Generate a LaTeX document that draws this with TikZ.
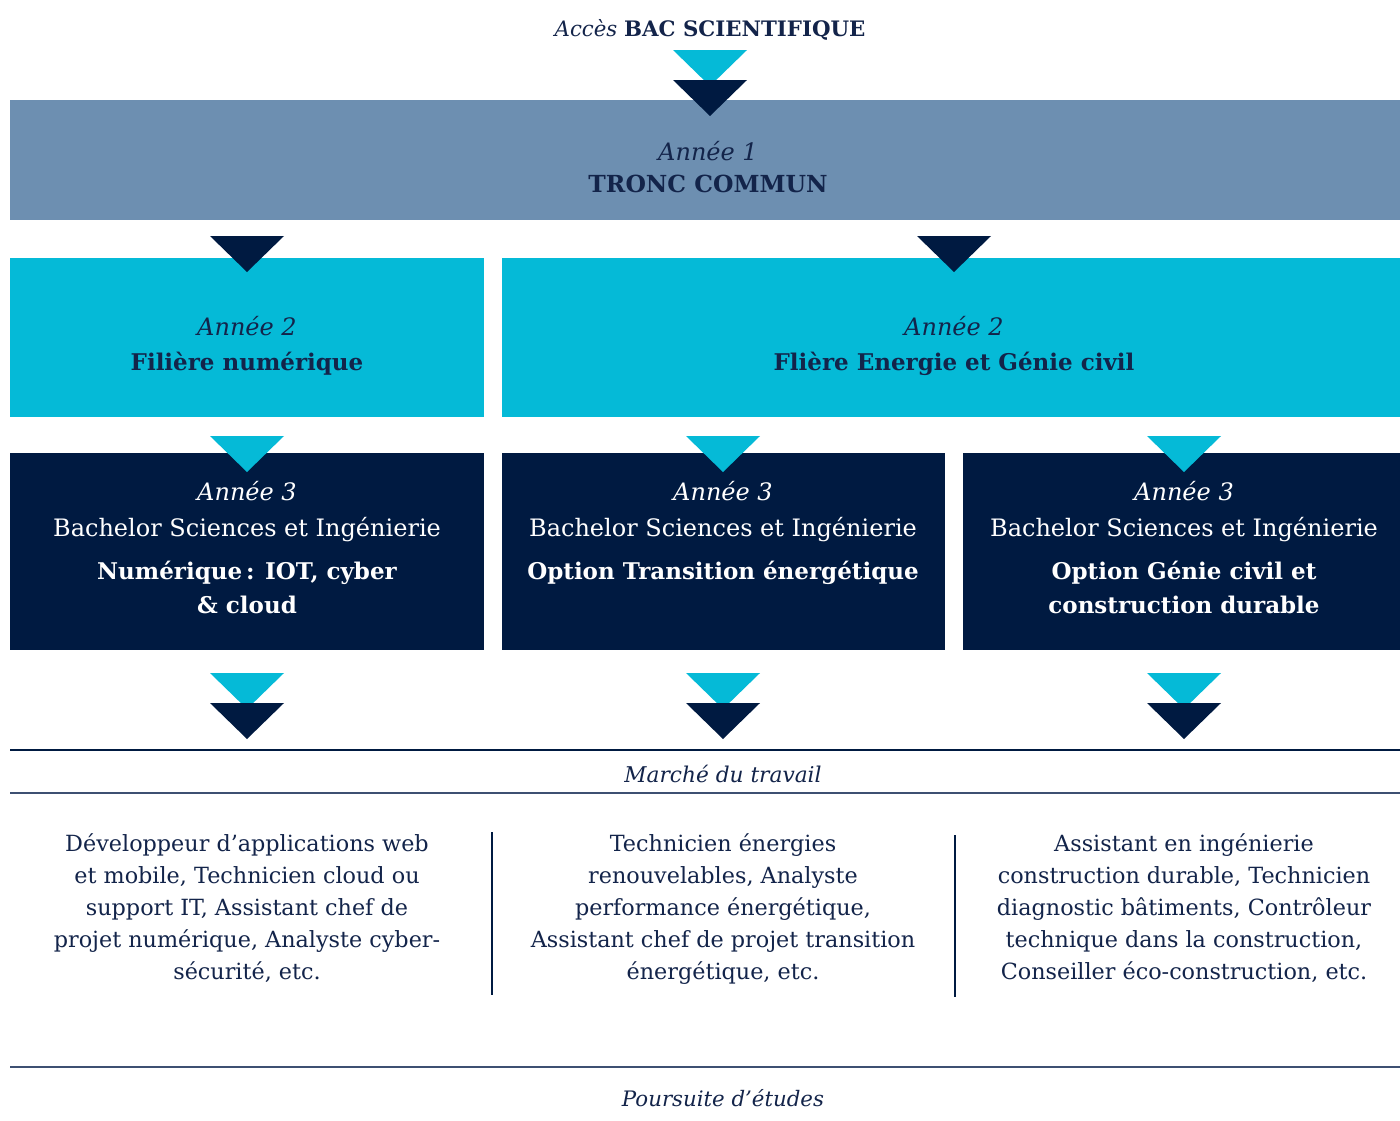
\documentclass[tikz,border=0pt]{standalone}
\usepackage{fontspec}
\setmainfont{DejaVu Serif}
\definecolor{band}{HTML}{6D8FB1}
\definecolor{cyanb}{HTML}{05BAD7}
\definecolor{navy}{HTML}{001A41}
\definecolor{ink}{HTML}{13244A}
\definecolor{rule}{HTML}{3E5072}
\tikzset{
  tri/.pic={\fill[#1] (-37,0) -- (37,0) -- (0,36) -- cycle;},
  it/.style={font=\fontsize{24}{28}\selectfont\itshape,anchor=base},
  itsm/.style={font=\fontsize{21.7}{26}\selectfont\itshape,anchor=base,text=ink},
  bd/.style={font=\fontsize{23}{27}\selectfont\bfseries,anchor=base},
  rg/.style={font=\fontsize{24}{28}\selectfont,anchor=base},
  body/.style={font=\fontsize{22.3}{32}\selectfont,anchor=base,text=ink},
}
\begin{document}
\begin{tikzpicture}[x=1pt,y=-1pt]
\useasboundingbox[fill=white] (0,0) rectangle (1400,1120);
% top
\node[font=\fontsize{21.3}{25}\selectfont,anchor=base,text=ink] (acces) at (710,36) {\textit{Accès} \textbf{BAC SCIENTIFIQUE}};
\fill[band] (10,100) rectangle (1400,220);
\pic at (710,50) {tri=cyanb};
\pic at (710,80) {tri=navy};
\node[it,text=ink] (a1) at (708,160) {Année 1};
\node[bd,font=\fontsize{23.5}{27}\selectfont\bfseries,text=ink] (tc) at (708,192) {TRONC COMMUN};
% year 2
\fill[cyanb] (10,258) rectangle (484,417);
\fill[cyanb] (502,258) rectangle (1400,417);
\pic at (247,236) {tri=navy};
\pic at (954,236) {tri=navy};
\node[it,text=ink] (a2l) at (247,335) {Année 2};
\node[bd,text=ink] (fnum) at (247,370) {Filière numérique};
\node[it,text=ink] (a2r) at (954,335) {Année 2};
\node[bd,text=ink] (fen) at (954,370) {Flière Energie et Génie civil};
% year 3
\fill[navy] (10,453) rectangle (484,650);
\fill[navy] (502,453) rectangle (945,650);
\fill[navy] (963,453) rectangle (1400,650);
\foreach \cx/\nm in {247/l,723/m,1184/r} {
  \pic at (\cx,436) {tri=cyanb};
  \node[it,text=white] (a3\nm) at (\cx,500) {Année 3};
  \node[rg,text=white] (bsi\nm) at (\cx,536) {Bachelor Sciences et Ingénierie};
  \pic at (\cx,673) {tri=cyanb};
  \pic at (\cx,703) {tri=navy};
}
\node[bd,text=white] (o1a) at (247,579) {Numérique\,: IOT, cyber};
\node[bd,text=white] (o1b) at (247,613) {\& cloud};
\node[bd,text=white] (o2a) at (723,579) {Option Transition énergétique};
\node[bd,text=white] (o3a) at (1184,579) {Option Génie civil et};
\node[bd,text=white] (o3b) at (1184,613) {construction durable};
% market
\draw[navy,line width=1.5pt] (10,750) -- (1400,750);
\draw[rule,line width=1.5pt] (10,793) -- (1400,793);
\node[itsm] (mt) at (723,782) {Marché du travail};
\draw[navy,line width=1.5pt] (492,832) -- (492,995);
\draw[navy,line width=1.5pt] (955,835) -- (955,997);
\foreach \t [count=\i] in {Développeur d’applications web,{et mobile, Technicien cloud ou},{support IT, Assistant chef de},{projet numérique, Analyste cyber-},{sécurité, etc.}}
  \node[body] (jl\i) at (247,{819+32*\i}) {\t};
\foreach \t [count=\i] in {Technicien énergies,{renouvelables, Analyste},{performance énergétique,},Assistant chef de projet transition,{énergétique, etc.}}
  \node[body] (jm\i) at (723,{819+32*\i}) {\t};
\foreach \t [count=\i] in {Assistant en ingénierie,{construction durable, Technicien},{diagnostic bâtiments, Contrôleur},{technique dans la construction,},{Conseiller éco-construction, etc.}}
  \node[body] (jr\i) at (1184,{819+32*\i}) {\t};
\draw[rule,line width=1.5pt] (10,1067) -- (1400,1067);
\node[itsm,font=\fontsize{21.3}{25}\selectfont\itshape] (pe) at (723,1106) {Poursuite d’études};
\end{tikzpicture}
\end{document}
